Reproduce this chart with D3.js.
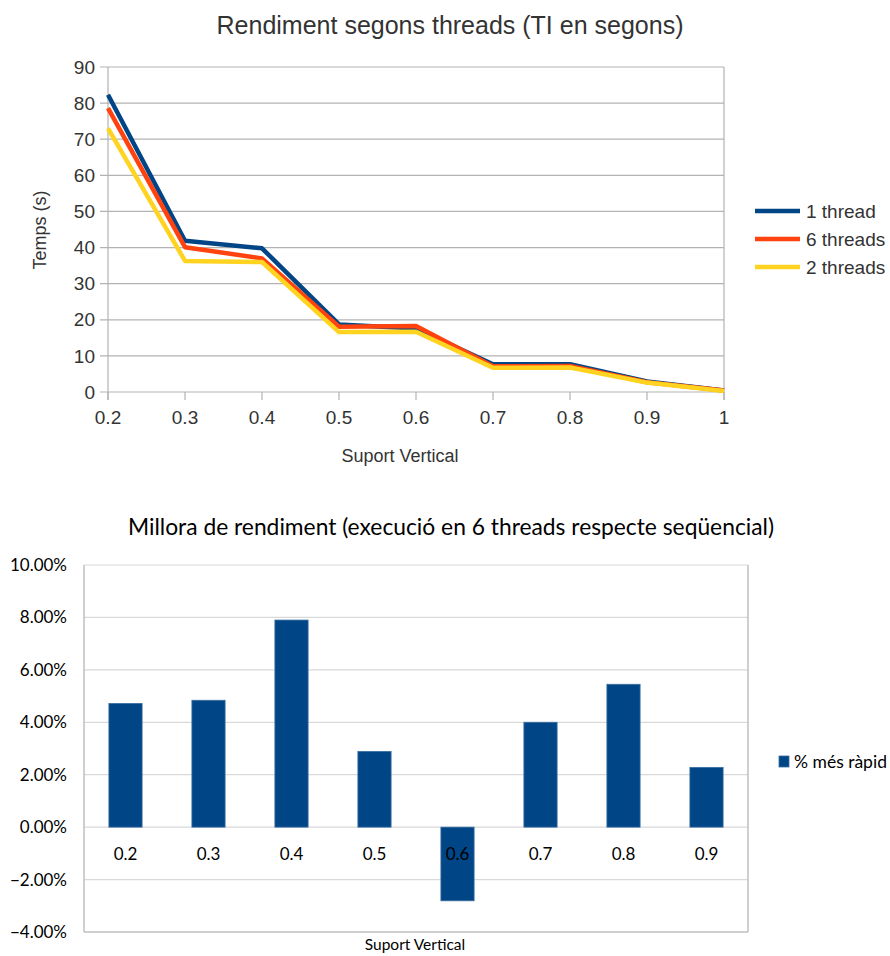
<!DOCTYPE html>
<html><head><meta charset="utf-8">
<script src="https://cdn.jsdelivr.net/npm/d3@7"></script>
<style>body{margin:0;background:#fff}svg{display:block}</style>
</head><body>
<svg id="c" width="890" height="956"></svg>
<script>
// ---- Top chart data ----
const xValues = [0.2, 0.3, 0.4, 0.5, 0.6, 0.7, 0.8, 0.9, 1];
const thread1 = [82.3, 41.9, 39.8, 18.7, 17.6, 7.7, 7.7, 2.9, 0.4];
const threads6 = [78.6, 40.1, 37.0, 18.1, 18.3, 7.1, 7.2, 2.7, 0.4];
const threads2 = [73.0, 36.3, 36.0, 16.6, 16.7, 6.7, 6.8, 2.6, 0.3];
const seriesNames = ["1 thread", "6 threads", "2 threads"];
const seriesColors = ["#004586", "#ff420e", "#ffd320"];
const yTicksTop = [0, 10, 20, 30, 40, 50, 60, 70, 80, 90];

// ---- Bottom chart data ----
const barCategories = ["0.2", "0.3", "0.4", "0.5", "0.6", "0.7", "0.8", "0.9"];
const barValues = [4.72, 4.84, 7.90, 2.89, -2.81, 4.00, 5.45, 2.28];
const yTicksBottom = [-4, -2, 0, 2, 4, 6, 8, 10];

const svg = d3.select("#c");

// ===== Top chart =====
(function(){
  const F = "'Liberation Sans', Arial, sans-serif";
  const L = 108, R = 724, T = 67, B = 392;
  const x = d3.scaleLinear().domain([0.2, 1]).range([L, R]);
  const y = d3.scaleLinear().domain([0, 90]).range([B, T]);
  const g = svg.append("g");
  g.selectAll(".gy").data(yTicksTop).join("line")
    .attr("x1", L - 8).attr("x2", R).attr("y1", d => y(d)).attr("y2", d => y(d))
    .attr("stroke", "#b3b3b3").attr("stroke-width", 1.2);
  g.append("line").attr("x1", L).attr("x2", L).attr("y1", T).attr("y2", B + 8).attr("stroke", "#b3b3b3").attr("stroke-width", 1.2);
  g.append("line").attr("x1", R).attr("x2", R).attr("y1", T).attr("y2", B + 8).attr("stroke", "#b3b3b3").attr("stroke-width", 1.2);
  g.selectAll(".tx").data(xValues).join("line")
    .attr("x1", d => x(d)).attr("x2", d => x(d)).attr("y1", B).attr("y2", B + 8)
    .attr("stroke", "#b3b3b3").attr("stroke-width", 1.2);
  g.selectAll(".ly").data(yTicksTop).join("text")
    .attr("x", L - 13).attr("y", d => y(d)).attr("dy", "0.35em")
    .attr("text-anchor", "end").attr("font-family", F).attr("font-size", 19).attr("fill", "#333")
    .text(d => d);
  g.selectAll(".lx").data(xValues).join("text")
    .attr("x", d => x(d)).attr("y", B + 32)
    .attr("text-anchor", "middle").attr("font-family", F).attr("font-size", 19).attr("fill", "#333")
    .text(d => d);
  g.append("text").attr("x", 450).attr("y", 34).attr("text-anchor", "middle")
    .attr("font-family", F).attr("font-size", 25).attr("fill", "#333").text("Rendiment segons threads (TI en segons)");
  g.append("text").attr("x", 400).attr("y", 462).attr("text-anchor", "middle")
    .attr("font-family", F).attr("font-size", 18).attr("fill", "#333").text("Suport Vertical");
  g.append("text").attr("transform", "translate(46,230) rotate(-90)").attr("text-anchor", "middle")
    .attr("font-family", F).attr("font-size", 18).attr("fill", "#333").text("Temps (s)");
  const line = d3.line().x((d, i) => x(xValues[i])).y(d => y(d));
  [thread1, threads6, threads2].forEach((s, k) => {
    g.append("path").attr("d", line(s)).attr("fill", "none")
      .attr("stroke", seriesColors[k]).attr("stroke-width", 4.5).attr("stroke-linejoin", "round");
  });
  seriesNames.forEach((n, k) => {
    const ly = 211 + k * 28;
    g.append("line").attr("x1", 755).attr("x2", 800).attr("y1", ly).attr("y2", ly)
      .attr("stroke", seriesColors[k]).attr("stroke-width", 4.5);
    g.append("text").attr("x", 806).attr("y", ly).attr("dy", "0.35em")
      .attr("font-family", F).attr("font-size", 19).attr("fill", "#333").text(n);
  });
})();

// ===== Bottom chart =====
(function(){
  const F = "Lato, 'Open Sans', sans-serif";
  const L = 84, R = 748, T = 565, B = 932;
  const x = d3.scaleBand().domain(barCategories).range([L, R]).paddingInner(0).paddingOuter(0);
  const y = d3.scaleLinear().domain([-4, 10]).range([B, T]);
  const g = svg.append("g");
  g.selectAll(".gy").data(yTicksBottom).join("line")
    .attr("x1", L).attr("x2", R).attr("y1", d => y(d)).attr("y2", d => y(d))
    .attr("stroke", d => d === -4 ? "#bfbfbf" : "#d9d9d9").attr("stroke-width", d => d === -4 ? 1.5 : 1.2);
  g.append("line").attr("x1", L).attr("x2", L).attr("y1", T).attr("y2", B).attr("stroke", "#bfbfbf").attr("stroke-width", 1.5);
  g.append("line").attr("x1", R).attr("x2", R).attr("y1", T).attr("y2", B).attr("stroke", "#bfbfbf").attr("stroke-width", 1.5);
  g.selectAll(".ly").data(yTicksBottom).join("text")
    .attr("x", L - 17).attr("y", d => y(d)).attr("dy", "0.35em")
    .attr("text-anchor", "end").attr("font-family", F).attr("font-size", 17).attr("fill", "#000")
    .text(d => d3.format(".2f")(d) + "%");
  const bw = x.bandwidth() * 0.4;
  g.selectAll(".bar").data(barValues).join("rect")
    .attr("x", (d, i) => x(barCategories[i]) + (x.bandwidth() - bw) / 2)
    .attr("width", bw)
    .attr("y", d => y(Math.max(0, d)))
    .attr("height", d => Math.abs(y(d) - y(0)))
    .attr("fill", "#004586").attr("stroke", "#3b6fa3").attr("stroke-width", 0.8);
  g.selectAll(".lx").data(barCategories).join("text")
    .attr("x", d => x(d) + x.bandwidth() / 2).attr("y", y(0) + 27).attr("dy", "0.35em")
    .attr("text-anchor", "middle").attr("font-family", F).attr("font-size", 17).attr("fill", "#000")
    .text(d => d);
  g.append("text").attr("x", 451).attr("y", 535).attr("text-anchor", "middle")
    .attr("font-family", F).attr("font-size", 22.8).attr("fill", "#000")
    .text("Millora de rendiment (execució en 6 threads respecte seqüencial)");
  g.append("text").attr("x", 415).attr("y", 950).attr("text-anchor", "middle")
    .attr("font-family", F).attr("font-size", 15.5).attr("fill", "#000").text("Suport Vertical");
  g.append("rect").attr("x", 779).attr("y", 756).attr("width", 10).attr("height", 11)
    .attr("fill", "#004586").attr("stroke", "#3b6fa3").attr("stroke-width", 0.8);
  g.append("text").attr("x", 794).attr("y", 762).attr("dy", "0.35em")
    .attr("font-family", F).attr("font-size", 17.5).attr("fill", "#000").text("% més ràpid");
})();
</script>
</body></html>
